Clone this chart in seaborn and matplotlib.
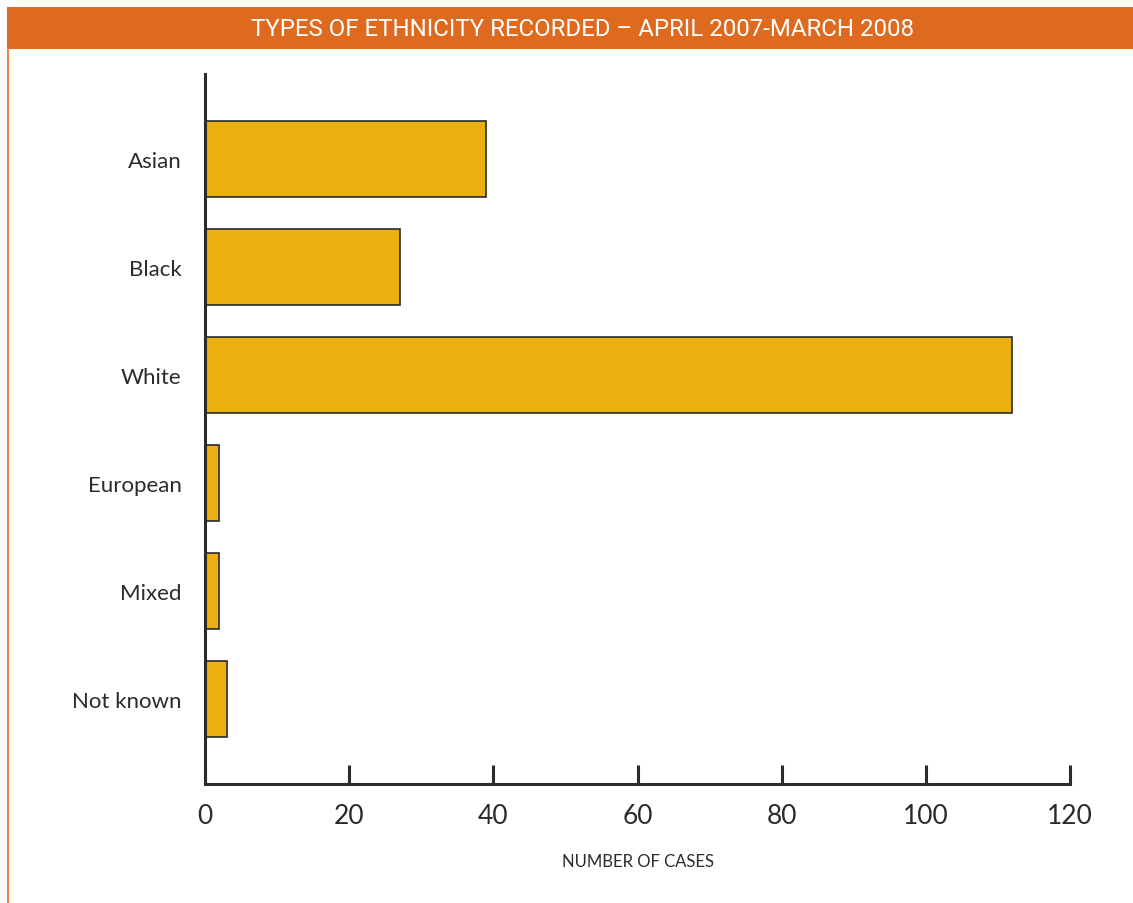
import matplotlib
matplotlib.use("Agg")
import matplotlib.pyplot as plt
import seaborn as sns
import pandas as pd
from matplotlib.patches import Rectangle
from matplotlib.lines import Line2D

categories = ["Asian", "Black", "White", "European", "Mixed", "Not known"]
cases = [39, 27, 112, 2, 2, 3]
x_ticks = [0, 20, 40, 60, 80, 100, 120]

title = "TYPES OF ETHNICITY RECORDED \u2013 APRIL 2007-MARCH 2008"
xlabel = "NUMBER OF CASES"

sns.set_theme(style="white")
plt.rcParams["font.family"] = ["Lato", "DejaVu Sans"]

W, H = 1133, 904
fig = plt.figure(figsize=(W / 100, H / 100), dpi=100)
fig.patch.set_facecolor("white")

orange = "#DD6A1E"
bar_color = "#EBB010"
dark = "#2b2b2b"

# Banner
fig.add_artist(Rectangle((7 / W, 1 - 50 / H), 1 - 7 / W, 42 / H, transform=fig.transFigure,
                         facecolor=orange, edgecolor="none"))
fig.add_artist(Line2D([8 / W, 8 / W], [0, 1 - 50 / H], transform=fig.transFigure,
                      color="#E8894A", linewidth=1.5))
fig.text(583 / W, 1 - 29 / H, title, color="white", ha="center", va="center",
         fontsize=17.3, family=["Roboto", "DejaVu Sans"])

ax = fig.add_axes([205 / W, 119 / H, 865 / W, 710 / H])
df = pd.DataFrame({"cat": categories, "val": cases})
sns.barplot(data=df, x="val", y="cat", orient="h", color=bar_color, width=0.705,
            edgecolor=dark, linewidth=1.2, saturation=1, ax=ax)

ax.set_xlim(0, 120)
ax.set_ylim(5.787, -0.787)
ax.set_xticks(x_ticks)
ax.set_xticklabels([str(t) for t in x_ticks], fontsize=19, color=dark)
ax.tick_params(axis="x", direction="in", length=14, width=2.2, color=dark, pad=14, bottom=True)
ax.tick_params(axis="y", length=0, pad=17, labelsize=16, labelcolor=dark)
ax.set_ylabel("")
ax.set_xlabel(xlabel, fontsize=12, color=dark, labelpad=18)
for s in ["top", "right"]:
    ax.spines[s].set_visible(False)
for s in ["left", "bottom"]:
    ax.spines[s].set_color(dark)
    ax.spines[s].set_linewidth(2.2)
ax.grid(False)

fig.savefig("out.png", dpi=100)
